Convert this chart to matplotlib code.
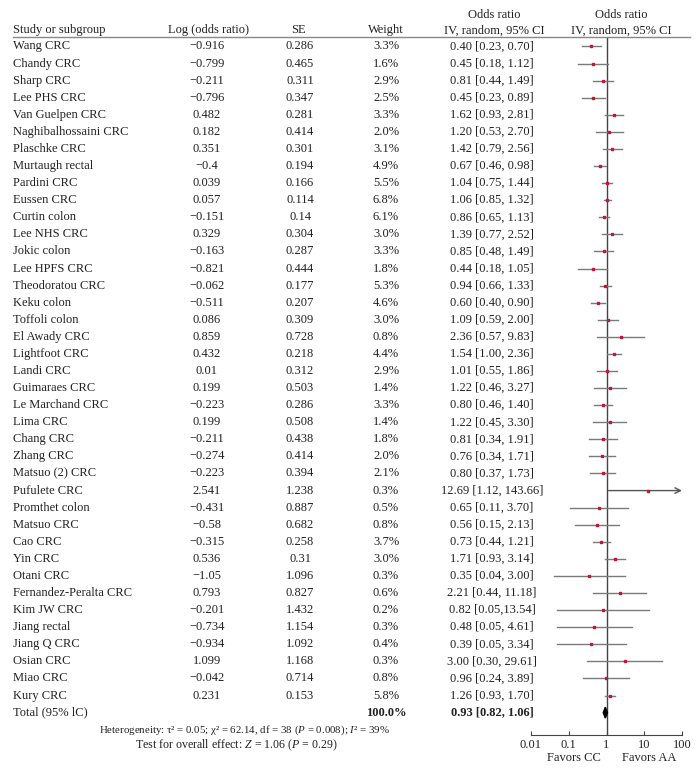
import matplotlib
matplotlib.use("Agg")
import matplotlib.pyplot as plt
import matplotlib.transforms as mtransforms
from matplotlib.lines import Line2D

plt.rcParams["font.family"] = ["Liberation Serif", "DejaVu Serif"]
plt.rcParams["mathtext.fontset"] = "custom"
plt.rcParams["mathtext.rm"] = "Liberation Serif"
plt.rcParams["mathtext.it"] = "Liberation Serif:italic"
plt.rcParams["mathtext.bf"] = "Liberation Serif:bold"

# ---- data ----
studies = [
    "Wang CRC", "Chandy CRC", "Sharp CRC", "Lee PHS CRC", "Van Guelpen CRC",
    "Naghibalhossaini CRC", "Plaschke CRC", "Murtaugh rectal", "Pardini CRC",
    "Eussen CRC", "Curtin colon", "Lee NHS CRC", "Jokic colon", "Lee HPFS CRC",
    "Theodoratou CRC", "Keku colon", "Toffoli colon", "El Awady CRC",
    "Lightfoot CRC", "Landi CRC", "Guimaraes CRC", "Le Marchand CRC", "Lima CRC",
    "Chang CRC", "Zhang CRC", "Matsuo (2) CRC", "Pufulete CRC", "Promthet colon",
    "Matsuo CRC", "Cao CRC", "Yin CRC", "Otani CRC", "Fernandez-Peralta CRC",
    "Kim JW CRC", "Jiang rectal", "Jiang Q CRC", "Osian CRC", "Miao CRC", "Kury CRC",
]
log_or = [
    -0.916, -0.799, -0.211, -0.796, 0.482, 0.182, 0.351, -0.4, 0.039, 0.057,
    -0.151, 0.329, -0.163, -0.821, -0.062, -0.511, 0.086, 0.859, 0.432, 0.01,
    0.199, -0.223, 0.199, -0.211, -0.274, -0.223, 2.541, -0.431, -0.58, -0.315,
    0.536, -1.05, 0.793, -0.201, -0.734, -0.934, 1.099, -0.042, 0.231,
]
se = [
    0.286, 0.465, 0.311, 0.347, 0.281, 0.414, 0.301, 0.194, 0.166, 0.114,
    0.14, 0.304, 0.287, 0.444, 0.177, 0.207, 0.309, 0.728, 0.218, 0.312,
    0.503, 0.286, 0.508, 0.438, 0.414, 0.394, 1.238, 0.887, 0.682, 0.258,
    0.31, 1.096, 0.827, 1.432, 1.154, 1.092, 1.168, 0.714, 0.153,
]
weight = [
    3.3, 1.6, 2.9, 2.5, 3.3, 2.0, 3.1, 4.9, 5.5, 6.8, 6.1, 3.0, 3.3, 1.8, 5.3,
    4.6, 3.0, 0.8, 4.4, 2.9, 1.4, 3.3, 1.4, 1.8, 2.0, 2.1, 0.3, 0.5, 0.8, 3.7,
    3.0, 0.3, 0.6, 0.2, 0.3, 0.4, 0.3, 0.8, 5.8,
]
odds = [
    0.40, 0.45, 0.81, 0.45, 1.62, 1.20, 1.42, 0.67, 1.04, 1.06, 0.86, 1.39, 0.85,
    0.44, 0.94, 0.60, 1.09, 2.36, 1.54, 1.01, 1.22, 0.80, 1.22, 0.81, 0.76, 0.80,
    12.69, 0.65, 0.56, 0.73, 1.71, 0.35, 2.21, 0.82, 0.48, 0.39, 3.00, 0.96, 1.26,
]
ci_low = [
    0.23, 0.18, 0.44, 0.23, 0.93, 0.53, 0.79, 0.46, 0.75, 0.85, 0.65, 0.77, 0.48,
    0.18, 0.66, 0.40, 0.59, 0.57, 1.00, 0.55, 0.46, 0.46, 0.45, 0.34, 0.34, 0.37,
    1.12, 0.11, 0.15, 0.44, 0.93, 0.04, 0.44, 0.05, 0.05, 0.05, 0.30, 0.24, 0.93,
]
ci_high = [
    0.70, 1.12, 1.49, 0.89, 2.81, 2.70, 2.56, 0.98, 1.44, 1.32, 1.13, 2.52, 1.49,
    1.05, 1.33, 0.90, 2.00, 9.83, 2.36, 1.86, 3.27, 1.40, 3.30, 1.91, 1.71, 1.73,
    143.66, 3.70, 2.13, 1.21, 3.14, 3.00, 11.18, 13.54, 4.61, 3.34, 29.61, 3.89, 1.70,
]
total_or, total_low, total_high = 0.93, 0.82, 1.06
total_weight = 100.0
xticks = [0.01, 0.1, 1, 10, 100]
xtick_labels = ["0.01", "0.1", "1", "10", "100"]

TXT = "#222222"
GRAY = "#7a7a7a"
RED = "#c0163a"
FS = 9

fig = plt.figure(figsize=(6.97, 7.77), dpi=100)
W, H = 697.0, 777.0

# forest panel (pixel layout: x 531..682, y 37..735)
row0, dy = 46.5, 17.08
ax = fig.add_axes([531 / W, 1 - 735 / H, (682 - 531) / W, (735 - 37) / H])
ax.set_xscale("log")
ax.set_xlim(0.01, 100)
ax.set_ylim((735 - row0) / dy, (37 - row0) / dy)
for s in ("top", "right", "left"):
    ax.spines[s].set_visible(False)
ax.spines["bottom"].set_color("#444444")
ax.set_yticks([])
ax.set_xticks(xticks)
ax.set_xticklabels(xtick_labels)
ax.minorticks_off()
ax.tick_params(axis="x", direction="in", length=3, labelsize=FS, colors="#444444",
               labelcolor=TXT, pad=3)
ax.patch.set_alpha(0)
ax.axvline(1, color="#444444", lw=1, zorder=1)

n = len(studies)
for i in range(n):
    hi = min(ci_high[i], 100)
    if ci_high[i] > 100:
        ax.annotate("", xy=(hi, i), xytext=(ci_low[i], i),
                    arrowprops=dict(arrowstyle="->", color="#555555", lw=1,
                                    shrinkA=0, shrinkB=0), annotation_clip=False)
    else:
        ax.plot([ci_low[i], hi], [i, i], color=GRAY, lw=1, zorder=2)
    ax.plot(odds[i], i, marker="s", ms=1.9, color=RED, mec=RED, zorder=3)

ty = n
ax.fill([total_low, total_or, total_high, total_or],
        [ty, ty - 0.32, ty, ty + 0.32], color="black", zorder=3)

# table text: x in figure pixels, y in row units
tr = mtransforms.blended_transform_factory(
    mtransforms.Affine2D().scale(1 / W, 1) + fig.transFigure, ax.transData)


def put(x, y, s, ha="center", fs=FS, **kw):
    fig.text(0, 0, s, transform=tr, ha=ha, va="center", fontsize=fs, color=TXT,
             **kw).set_position((x, y))


def fmt_num(v):
    return f"{v:g}".replace("-", "\u2212")


h1 = (15.5 - row0) / dy
h2 = (30.5 - row0) / dy
put(13, h2, "Study or subgroup", ha="left")
put(209, h2, "Log (odds ratio)")
put(298, h2, "SE")
put(386, h2, "Weight")
put(494, h1, "Odds ratio")
put(494, h2, "IV, random, 95% CI")
put(621, h1, "Odds ratio")
put(621, h2, "IV, random, 95% CI")
fig.add_artist(Line2D([13 / W, 690 / W], [1 - 37 / H, 1 - 37 / H],
                      color="#888888", lw=1))

for i in range(n):
    put(13, i, studies[i], ha="left")
    put(207, i, fmt_num(log_or[i]))
    put(300, i, fmt_num(se[i]))
    put(386, i, f"{weight[i]:.1f}%")
    sep = "," if studies[i] == "Kim JW CRC" else ", "
    put(492, i, f"{odds[i]:.2f} [{ci_low[i]:.2f}{sep}{ci_high[i]:.2f}]")

put(13, ty, "Total (95% lC)", ha="left")
put(386, ty, f"{total_weight:.1f}%", fontweight="bold")
put(492, ty, f"{total_or:.2f} [{total_low:.2f}, {total_high:.2f}]", fontweight="bold")

put(244, (730 - row0) / dy,
    "Heterogeneity: \u03c4\u00b2 = 0.05; \u03c7\u00b2 = 62.14, df = 38 ($P$ = 0.008); $I$\u00b2 = 39%",
    fs=7.8)
put(236, (745 - row0) / dy, r"Test for overall effect: $Z$ = 1.06 ($P$ = 0.29)", fs=8.6)
put(574, (758 - row0) / dy, "Favors CC")
put(649, (758 - row0) / dy, "Favors AA")

fig.savefig("out.png", dpi=100)
